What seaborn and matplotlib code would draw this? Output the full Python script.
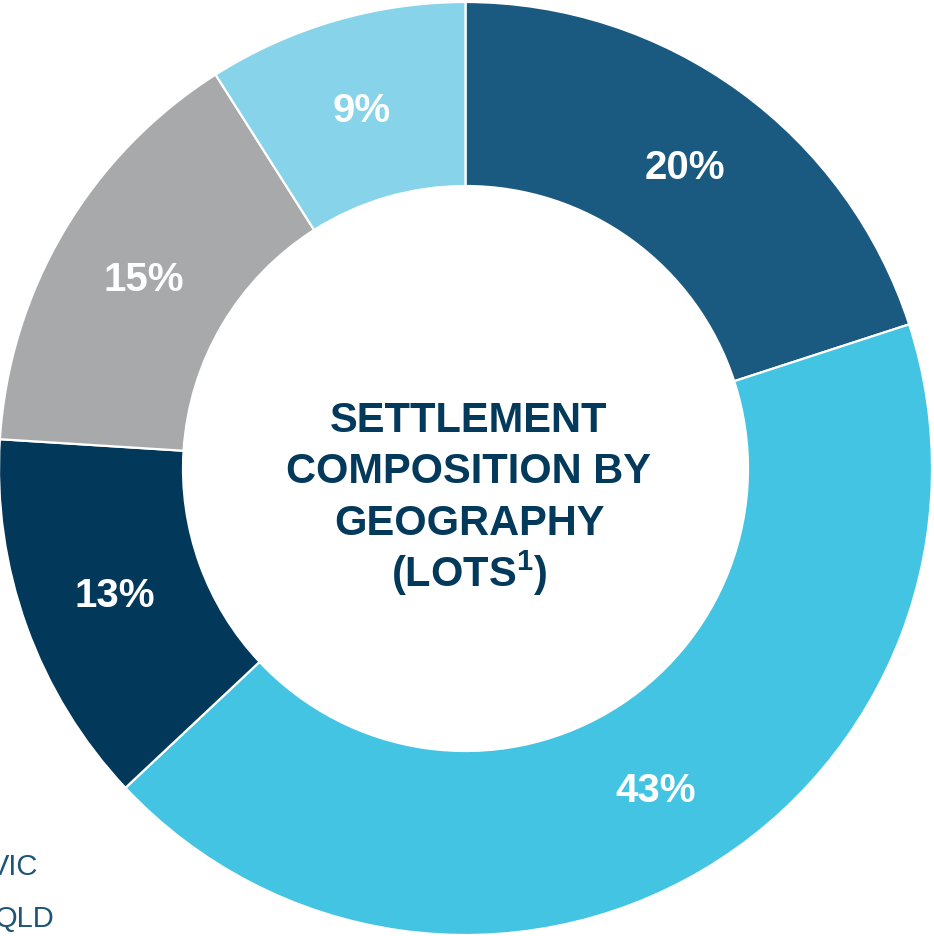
import matplotlib
matplotlib.use("Agg")
import matplotlib.pyplot as plt
import seaborn as sns

# Settlement share by state (lots), clockwise from 12 o'clock
states = ["NSW", "VIC", "QLD", "SA", "WA"]
shares = [20, 43, 13, 15, 9]
colors = ["#1B5A80", "#43C4E3", "#02385A", "#A8A9AB", "#86D3EA"]
legend_labels = ["VIC", "QLD"]
center_lines = ["SETTLEMENT", "COMPOSITION BY", "GEOGRAPHY",
                r"$\mathbf{(LOTS}^{\mathbf{1}}\mathbf{)}$"]

sns.set_theme(style="white")
plt.rcParams["font.family"] = ["Liberation Sans", "DejaVu Sans"]
plt.rcParams["mathtext.fontset"] = "custom"
plt.rcParams["mathtext.bf"] = "Liberation Sans:bold"
plt.rcParams["mathtext.rm"] = "Liberation Sans"

W, H = 934, 937
fig = plt.figure(figsize=(W / 100, H / 100), dpi=100)
ax = fig.add_axes([0, 0, 1, 1])

R = 466.5              # outer radius in pixels
cx, cy = 465.5, 469.5  # centre in pixels (from top-left)
inner = 282.5

palette = sns.color_palette(colors)
wedges, texts, autotexts = ax.pie(
    shares,
    colors=palette,
    startangle=90,
    counterclock=False,
    radius=1.0,
    autopct=lambda p: f"{p:.0f}%",
    pctdistance=0.8,
    wedgeprops=dict(width=1 - inner / R, edgecolor="white", linewidth=1.6),
    textprops=dict(color="white", fontsize=29, fontweight="bold"),
)

ax.set_aspect("auto")
ax.set_xlim(-cx / R, (W - cx) / R)
ax.set_ylim((cy - H) / R, cy / R)
ax.axis("off")

# Title inside the ring
baselines = [432, 483.5, 535, 586.5]
for line, by in zip(center_lines, baselines):
    fig.text(469 / W, 1 - by / H, line, ha="center", va="baseline",
             fontsize=30, fontweight="bold", color="#03395B")

# Legend entries (partly outside the canvas)
for lab, rx, by in zip(legend_labels, [38, 54], [875, 927]):
    fig.text(rx / W, 1 - by / H, lab, ha="right", va="baseline",
             fontsize=21, color="#1D5576")

fig.savefig("out.png", dpi=100, facecolor="white")
